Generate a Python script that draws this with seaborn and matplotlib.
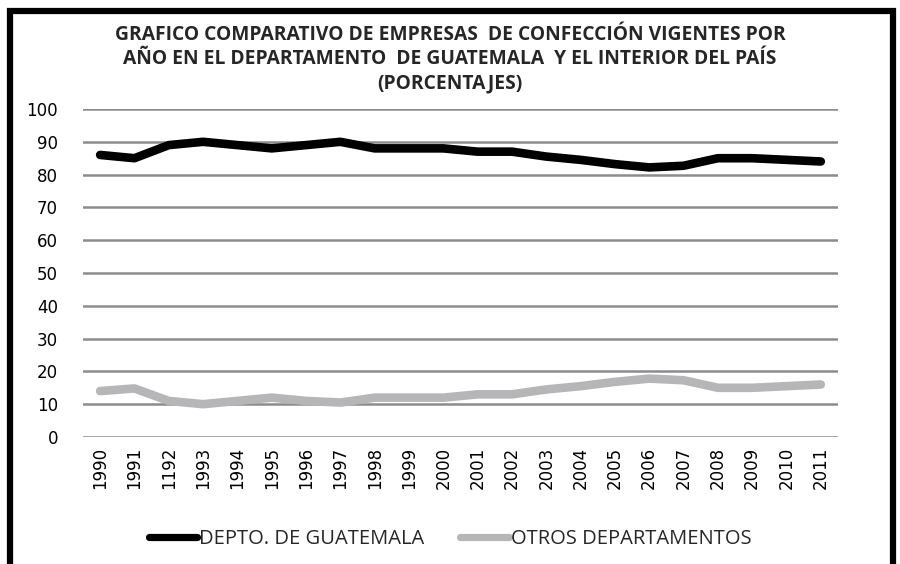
import matplotlib
matplotlib.use("Agg")
import matplotlib.pyplot as plt
import matplotlib.patches as patches
from matplotlib.lines import Line2D
import seaborn as sns
import pandas as pd

# data
years = ["1990", "1991", "1192", "1993", "1994", "1995", "1996", "1997", "1998", "1999", "2000",
         "2001", "2002", "2003", "2004", "2005", "2006", "2007", "2008", "2009", "2010", "2011"]
guatemala = [86, 85, 89, 90, 89, 88, 89, 90, 88, 88, 88,
             87, 87, 85.5, 84.5, 83.2, 82.2, 82.7, 85, 85, 84.5, 84]
otros = [14, 14.8, 11, 10, 11, 12, 11, 10.5, 12, 12, 12,
         13, 13, 14.5, 15.5, 16.8, 17.8, 17.3, 15, 15, 15.5, 16]
series_names = ["DEPTO. DE GUATEMALA", "OTROS DEPARTAMENTOS"]
series_colors = ["#000000", "#B6B6B9"]

df = pd.DataFrame({
    "year": years * 2,
    "pct": guatemala + otros,
    "serie": [series_names[0]] * len(years) + [series_names[1]] * len(years),
})

sns.set_style("white")
narrow = ["Open Sans", "DejaVu Sans"]

fig = plt.figure(figsize=(9, 5.64), dpi=100)
ax = fig.add_axes([0.0922, 0.2252, 0.8389, 0.5815])

sns.lineplot(data=df, x="year", y="pct", hue="serie", hue_order=series_names,
             palette=series_colors, sort=False, linewidth=6.2, ax=ax,
             legend=False, solid_capstyle="round", solid_joinstyle="round")
for ln in ax.lines:
    ln.set_clip_on(False)
    ln.set_zorder(3)

ax.set_ylim(0, 100)
ax.set_xlim(-0.5, len(years) - 0.5)
ax.set_yticks(range(0, 101, 10))
ax.yaxis.grid(True, color="#8C8C8C", linewidth=1.8)
ax.set_axisbelow(True)
for s in ax.spines.values():
    s.set_visible(False)
ax.tick_params(axis="y", length=0, pad=18, labelsize=12, labelcolor="#000000")
ax.tick_params(axis="x", length=0, pad=7, labelsize=12, labelrotation=90, labelcolor="#000000")
ax.set_xlabel("")
ax.set_ylabel("")

fig.text(0.5, 0.956, "GRAFICO COMPARATIVO DE EMPRESAS  DE CONFECCIÓN VIGENTES POR\n"
         "AÑO EN EL DEPARTAMENTO  DE GUATEMALA  Y EL INTERIOR DEL PAÍS\n(PORCENTAJES)",
         ha="center", va="top", fontsize=13.9, fontweight="bold", family=narrow,
         linespacing=1.3)

handles = [Line2D([], [], color=c, linewidth=5.2) for c in series_colors]
fig.legend(handles, series_names, loc="center", bbox_to_anchor=(0.5, 0.044), ncol=2,
           frameon=False, handlelength=2.4, handletextpad=0.1, columnspacing=1.8,
           prop={"family": narrow, "size": 14.5})

fig.patches.append(patches.Rectangle((0.011, -0.05), 0.981, 1.03, transform=fig.transFigure,
                                     fill=False, edgecolor="black", linewidth=4.5))

fig.savefig("out.png", dpi=100)
